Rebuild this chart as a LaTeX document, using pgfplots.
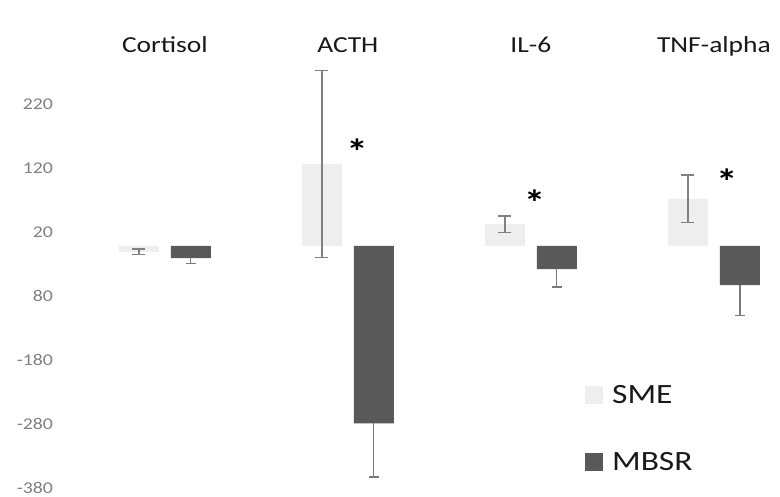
\documentclass[border=0pt]{standalone}
\usepackage{fontspec}
\setmainfont[FakeStretch=1.2]{Carlito}
\usepackage{pgfplots}
\pgfplotsset{compat=1.18}
\definecolor{smec}{HTML}{EEEEEE}
\definecolor{mbsrc}{HTML}{595959}
\definecolor{errc}{HTML}{808080}
\definecolor{errd}{HTML}{7A7A7A}
\begin{document}
\begin{tikzpicture}
\useasboundingbox (-55bp,-4.6bp) rectangle (725bp,492.4bp);
\begin{axis}[
  scale only axis, width=723bp, height=438.4bp,
  xmin=-0.6, xmax=3.35, ymin=-385, ymax=300,
  axis line style={draw=none}, tick style={draw=none},
  xtick={0,1,2,3}, xticklabels={Cortisol,ACTH,IL-6,TNF-alpha},
  xticklabel pos=upper,
  xticklabel style={anchor=base, inner sep=0pt, yshift=-3bp, font=\fontsize{23}{23}\selectfont, text=black!90},
  ytick={-380,-280,-180,-80,20,120,220},
  yticklabels={-380,-280,-180,80,20,120,220},
  yticklabel style={anchor=east, inner sep=0pt, xshift=-2bp, yshift=1bp, font=\fontsize{16.5}{16.5}\selectfont, text=black!50},
  ybar, bar width=40bp, bar shift=0pt,
  legend image code/.code={\draw[#1,draw=none] (0bp,-9bp) rectangle (18bp,9bp);},
  legend style={draw=none, fill=none, at={(0.733,0.250)}, anchor=north west,
    row sep=44bp, column sep=7bp, font=\fontsize{28}{28}\selectfont, text=black!90,
    inner sep=0pt, nodes={inner sep=2bp}},
  legend cell align=left,
]
\addplot[fill=smec, draw=none,
  error bars/.cd, y dir=both, y explicit,
  error bar style={line width=1.5bp, errc},
  error mark options={rotate=90, mark size=6.5bp, line width=1.5bp, errc}]
  table[x=x, y=y, y error=e] {
x       y     e
-0.142  -9    4
0.858   128   146
1.858   34    13
2.858   74    37
};
\addlegendentry{SME}
\addplot[fill=mbsrc, draw=none,
  error bars/.cd, y dir=minus, y explicit,
  error bar style={line width=1.2bp, errd},
  error mark options={rotate=90, mark size=5bp, line width=1.2bp, errd}]
  table[x=x, y=y, y error=e] {
x       y     e
0.142   -19   8
1.142   -277  84
2.142   -36   28
3.142   -61   48
};
\addlegendentry{MBSR}
\node[font=\bfseries\fontsize{36}{36}\selectfont] at (axis cs:1.05,148) {*};
\node[font=\bfseries\fontsize{36}{36}\selectfont] at (axis cs:2.02,67) {*};
\node[font=\bfseries\fontsize{36}{36}\selectfont] at (axis cs:3.07,101) {*};
\end{axis}
\end{tikzpicture}
\end{document}
